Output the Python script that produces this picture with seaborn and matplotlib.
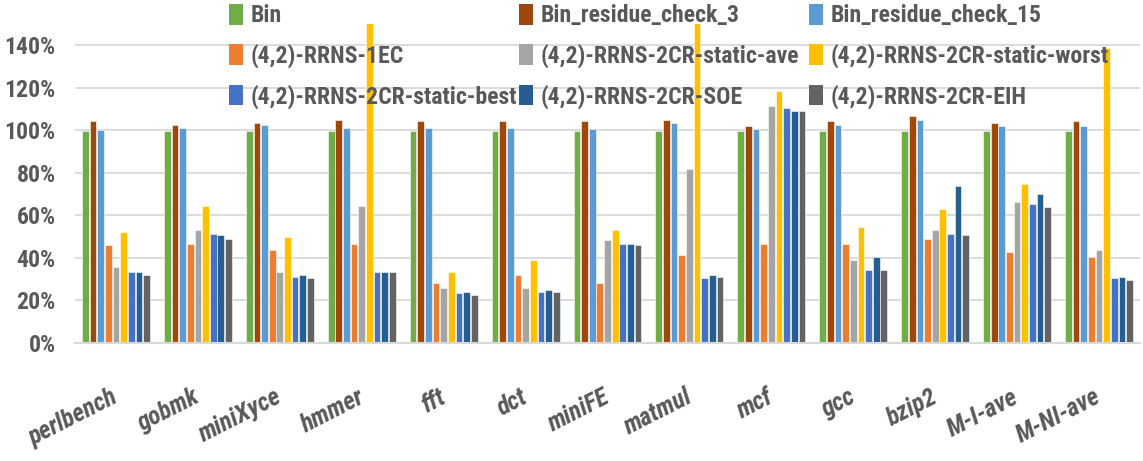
import matplotlib
matplotlib.use("Agg")
import matplotlib.pyplot as plt
from matplotlib import font_manager as fm
import seaborn as sns
import pandas as pd
import numpy as np
from matplotlib.ticker import PercentFormatter
from matplotlib.patches import Patch

benchmarks = ["perlbench", "gobmk", "miniXyce", "hmmer", "fft", "dct", "miniFE",
              "matmul", "mcf", "gcc", "bzip2", "M-I-ave", "M-NI-ave"]

series_names = ["Bin", "Bin_residue_check_3", "Bin_residue_check_15",
                "(4,2)-RRNS-1EC", "(4,2)-RRNS-2CR-static-ave", "(4,2)-RRNS-2CR-static-worst",
                "(4,2)-RRNS-2CR-static-best", "(4,2)-RRNS-2CR-SOE", "(4,2)-RRNS-2CR-EIH"]

bin_vals      = [99.5, 99.5, 99.5, 99.5, 99.5, 99.5, 99.5, 99.5, 99.5, 99.5, 99.5, 99.5, 99.5]
rc3_vals      = [104.2, 102.7, 103.4, 105.0, 104.2, 104.2, 104.2, 105.0, 101.9, 104.2, 106.6, 103.4, 104.2]
rc15_vals     = [100.3, 101.3, 102.7, 101.3, 101.3, 101.3, 100.5, 103.4, 100.5, 102.7, 105.0, 101.9, 101.9]
ec1_vals      = [45.9, 46.7, 43.6, 46.7, 28.1, 32.0, 28.1, 41.2, 46.7, 46.7, 49.1, 42.8, 40.4]
ave_vals      = [35.9, 53.1, 33.5, 64.6, 25.7, 25.7, 48.4, 81.7, 111.3, 39.0, 53.1, 66.3, 43.7]
worst_vals    = [52.2, 64.6, 49.8, 152.0, 33.5, 39.0, 53.1, 152.0, 118.3, 54.5, 63.2, 74.8, 138.7]
best_vals     = [33.5, 51.3, 31.2, 33.5, 23.4, 24.1, 46.7, 30.4, 110.5, 34.3, 51.4, 65.5, 30.4]
soe_vals      = [33.5, 50.6, 32.0, 33.5, 24.1, 24.9, 46.7, 32.0, 108.9, 40.4, 73.8, 70.1, 31.2]
eih_vals      = [32.0, 49.1, 30.4, 33.5, 22.6, 24.1, 45.9, 31.2, 108.9, 34.3, 50.6, 63.9, 29.6]

colors = ["#70AD47", "#9E480E", "#5B9BD5", "#ED7D31", "#A5A5A5",
          "#FFC000", "#4472C4", "#255E91", "#636363"]

all_vals = [bin_vals, rc3_vals, rc15_vals, ec1_vals, ave_vals, worst_vals,
            best_vals, soe_vals, eih_vals]
rows = []
for name, vals in zip(series_names, all_vals):
    for b, v in zip(benchmarks, vals):
        rows.append({"benchmark": b, "series": name, "value": v})
df = pd.DataFrame(rows)

sns.set_theme(style="white")

# pick the most condensed font family available
available = {f.name for f in fm.fontManager.ttflist}
prefs = ["Liberation Sans Narrow", "Roboto Condensed", "Open Sans Condensed",
         "DejaVu Sans Condensed", "Noto Sans Condensed", "Arial Narrow",
         "Roboto", "Lato", "Liberation Sans"]
family = "DejaVu Sans"
for p in prefs:
    if p in available:
        family = p
        break
plt.rcParams["font.family"] = [family, "DejaVu Sans"]

TXT = "#595959"
fig = plt.figure(figsize=(11.43, 4.61), dpi=100)

# choose font size so that text widths match the reference
renderer = fig.canvas.get_renderer()
probe = fig.text(0, 0, "Bin_residue_check_3", fontsize=20, fontweight="bold")
w = probe.get_window_extent(renderer).width
probe.remove()
FS = min(21.0, 20.0 * 198.0 / w)

ax = fig.add_axes([75/1143, 1 - 343/461, (1140 - 75)/1143, (343 - 24)/461])

sns.barplot(data=df, x="benchmark", y="value", hue="series", order=benchmarks,
            hue_order=series_names, palette=colors, width=0.84, gap=0.12,
            edgecolor="white", linewidth=0.4, saturation=1, ax=ax, legend=False)

ax.set_ylim(0, 150)
ax.set_xlim(-0.5, len(benchmarks) - 0.5)
ax.set_yticks(np.arange(0, 141, 20))
ax.yaxis.set_major_formatter(PercentFormatter(100, decimals=0))
ax.grid(axis="y", color="#D9D9D9", linewidth=1.3)
ax.set_axisbelow(True)
for s in ["top", "right", "left"]:
    ax.spines[s].set_visible(False)
ax.spines["bottom"].set_color("#D9D9D9")
ax.spines["bottom"].set_linewidth(1.5)
ax.set_xlabel("")
ax.set_ylabel("")

ax.tick_params(axis="y", length=0, pad=14, labelsize=FS, labelcolor=TXT)
ax.tick_params(axis="x", length=0, pad=38, labelsize=FS * 1.05, labelcolor=TXT)
for lab in ax.get_yticklabels():
    lab.set_fontweight("bold")
for lab in ax.get_xticklabels():
    lab.set_rotation(27)
    lab.set_ha("right")
    lab.set_va("center")
    lab.set_rotation_mode("anchor")
    lab.set_fontstyle("italic")
    lab.set_fontweight("bold")

# legend: three columns, each placed separately
handles = [Patch(facecolor=c, edgecolor="none") for c in colors]
col_x = [229 / 1143, 519 / 1143, 809 / 1143]
for ci in range(3):
    idx = [ci, ci + 3, ci + 6]
    leg = fig.legend([handles[i] for i in idx], [series_names[i] for i in idx],
                     loc="upper left", bbox_to_anchor=(col_x[ci], 1 - 4 / 461),
                     frameon=False, fontsize=FS, handlelength=0.6, handleheight=0.95,
                     handletextpad=0.3, labelspacing=0.68, borderpad=0, borderaxespad=0)
    for t in leg.get_texts():
        t.set_color(TXT)
        t.set_fontweight("bold")

fig.savefig("out.png", dpi=100)
